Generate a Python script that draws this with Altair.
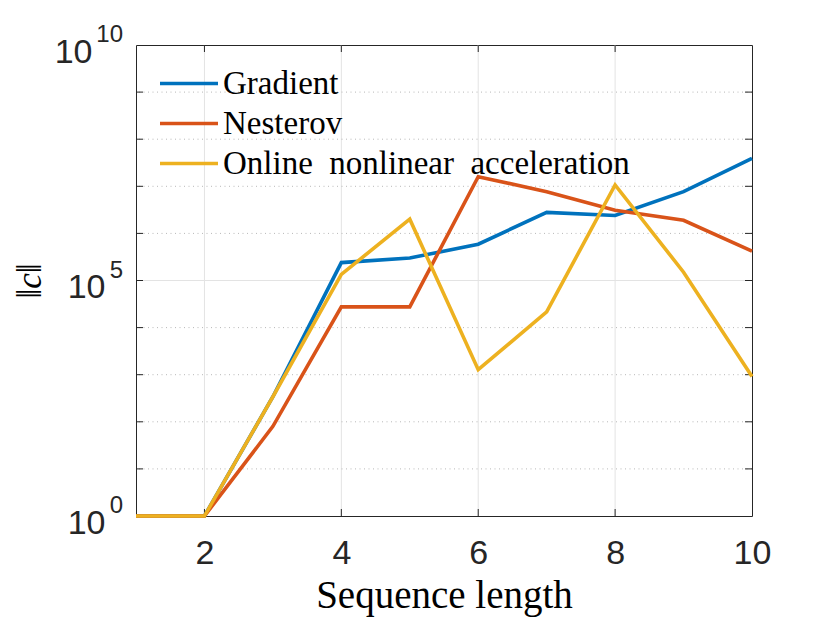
import altair as alt
import pandas as pd

# ---- data ----
seq_len = [1, 2, 3, 4, 5, 6, 7, 8, 9, 10]
series_names = ["Gradient", "Nesterov", "Online\u2002nonlinear\u2002acceleration"]
gradient = [1, 1, 3.4e2, 2.4e5, 3.0e5, 5.9e5, 2.8e6, 2.4e6, 7.7e6, 3.9e7]
nesterov = [1, 1, 8.0e1, 2.75e4, 2.75e4, 1.6e7, 7.7e6, 3.1e6, 1.9e6, 4.2e5]
online = [1, 1, 3.4e2, 1.35e5, 2.0e6, 1.28e3, 2.15e4, 1.07e7, 1.5e5, 9.2e2]
colors = ["#0072BD", "#D95319", "#EDB120"]

x_ticks = [2, 4, 6, 8, 10]
x_grid = [2, 4, 6, 8]
y_labels = [1, 1e5, 1e10]
y_exponents = ["0", "5", "10"]
y_major_grid = [1e5]
y_minor_grid = [1e1, 1e2, 1e3, 1e4, 1e6, 1e7, 1e8, 1e9]
y_inner_decades = [1e1, 1e2, 1e3, 1e4, 1e5, 1e6, 1e7, 1e8, 1e9]

rows = []
for name, vals in zip(series_names, [gradient, nesterov, online]):
    for s, v in zip(seq_len, vals):
        rows.append({"n": s, "c": v, "method": name})
df = pd.DataFrame(rows)

W, H = 616, 471
xscale = alt.Scale(domain=[1, 10], nice=False, zero=False)
yscale = alt.Scale(type="log", domain=[1, 1e10], nice=False)

grid_color = "#e3e3e3"
ink = "#262626"
tick_font = "Liberation Sans"
tick_size = 34

x_axis = alt.Axis(
    values=x_ticks,
    grid=False,
    ticks=False,
    domain=False,
    labelFont=tick_font,
    labelFontSize=tick_size,
    labelColor=ink,
    labelPadding=20,
    labelFlush=False,
    title="Sequence length",
    titleFont="Liberation Serif",
    titleFontSize=39,
    titleFontWeight="normal",
    titleColor="black",
    titleX=W / 2,
    titleY=91,
    titleBaseline="alphabetic",
    titleAlign="center",
)
y_axis = alt.Axis(
    values=y_labels,
    grid=False,
    ticks=False,
    domain=False,
    labelFont=tick_font,
    labelFontSize=tick_size,
    labelColor=ink,
    labelPadding=alt.condition("datum.value > 1000000", alt.value(44), alt.value(31)),
    labelOffset=7,
    labelFlush=False,
    labelExpr="'10'",
    title="\u2016c\u2016",
    titleFont="Liberation Serif",
    titleFontSize=35,
    titleFontStyle="italic",
    titleFontWeight="normal",
    titleColor="black",
    titleX=-107,
    titleY=H / 2,
    titleAngle=-90,
    titleAlign="center",
    titleBaseline="middle",
)

vgrid = alt.Chart(pd.DataFrame({"gx": x_grid})).mark_rule(
    color=grid_color, strokeWidth=1
).encode(x=alt.X("gx:Q", scale=xscale, axis=x_axis))

hgrid = alt.Chart(pd.DataFrame({"gy": y_major_grid})).mark_rule(
    color=grid_color, strokeWidth=1
).encode(y=alt.Y("gy:Q", scale=yscale, axis=y_axis))

hminor = alt.Chart(pd.DataFrame({"my": y_minor_grid})).mark_rule(
    color="#b8b8b8", strokeWidth=1, strokeDash=[1, 3.5]
).encode(y=alt.Y("my:Q", scale=yscale, axis=y_axis))

exponents = alt.Chart(pd.DataFrame({"ey": y_labels, "et": y_exponents})).mark_text(
    align="right", baseline="middle", dy=-10, font=tick_font, fontSize=24, color=ink
).encode(
    y=alt.Y("ey:Q", scale=yscale, axis=y_axis),
    x=alt.value(-13),
    text="et:N",
)

lines = alt.Chart(df).mark_line(strokeWidth=3.6, clip=False).encode(
    x=alt.X("n:Q", scale=xscale, axis=x_axis),
    y=alt.Y("c:Q", scale=yscale, axis=y_axis),
    color=alt.Color(
        "method:N",
        scale=alt.Scale(domain=series_names, range=colors),
        sort=series_names,
        legend=alt.Legend(
            title=None,
            orient="none",
            legendX=22,
            legendY=22,
            symbolType="stroke",
            symbolSize=3364,
            symbolStrokeWidth=3.6,
            clipHeight=33,
            rowPadding=6,
            labelOffset=3,
            labelFont="Liberation Serif",
            labelFontSize=33,
            labelColor="black",
            labelLimit=700,
            padding=0,
        ),
    ),
)

tick_bottom = alt.Chart(pd.DataFrame({"tx": x_grid})).mark_rule(color=ink, strokeWidth=1).encode(
    x=alt.X("tx:Q", scale=xscale, axis=x_axis), y=alt.value(H), y2=alt.value(H - 7)
)
tick_top = alt.Chart(pd.DataFrame({"tx": x_grid})).mark_rule(color=ink, strokeWidth=1).encode(
    x=alt.X("tx:Q", scale=xscale, axis=x_axis), y=alt.value(0), y2=alt.value(7)
)
tick_left = alt.Chart(pd.DataFrame({"ty": y_inner_decades})).mark_rule(color=ink, strokeWidth=1).encode(
    y=alt.Y("ty:Q", scale=yscale, axis=y_axis), x=alt.value(0), x2=alt.value(7)
)
tick_right = alt.Chart(pd.DataFrame({"ty": y_inner_decades})).mark_rule(color=ink, strokeWidth=1).encode(
    y=alt.Y("ty:Q", scale=yscale, axis=y_axis), x=alt.value(W - 7), x2=alt.value(W)
)

chart = (
    alt.layer(vgrid, hgrid, hminor, tick_bottom, tick_top, tick_left, tick_right, exponents, lines)
    .properties(
        width=W,
        height=H,
        autosize=alt.AutoSizeParams(type="none"),
        padding={"left": 128, "top": 37, "right": 20, "bottom": 105},
        background="white",
    )
    .configure_view(stroke=ink, strokeWidth=1)
)

chart.save("out.html", embed_options={"renderer": "svg", "actions": False})
